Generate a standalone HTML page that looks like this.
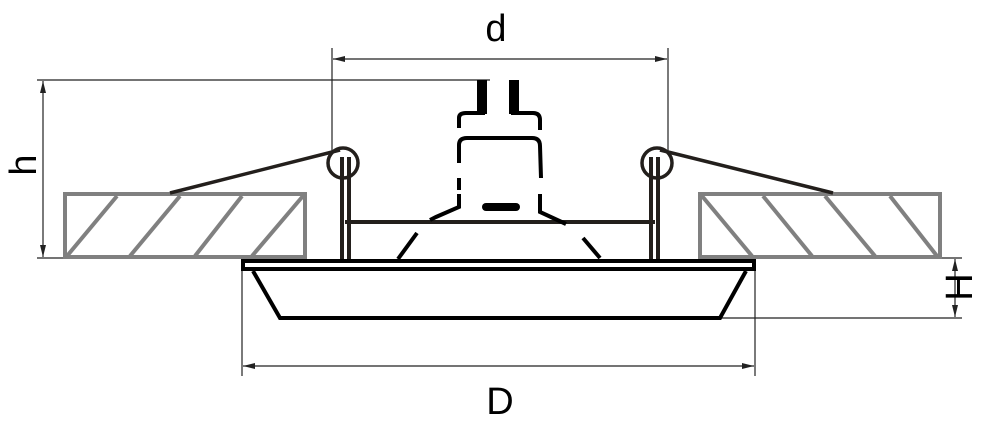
<!DOCTYPE html>
<html><head><style>html,body{margin:0;padding:0;background:#fff;width:1000px;height:433px;overflow:hidden}</style></head>
<body>
<svg width="1000" height="433" viewBox="0 0 1000 433" xmlns="http://www.w3.org/2000/svg">
<defs>
<marker id="a" viewBox="0 0 12 6" refX="12" refY="3" markerWidth="12" markerHeight="6" orient="auto-start-reverse" markerUnits="userSpaceOnUse"><path d="M0,0 L12,3 L0,6 Z" fill="#222"/></marker>
</defs>
<g stroke="#222" stroke-width="1.2" fill="none">
<line x1="37" y1="80" x2="490" y2="80"/>
<line x1="37" y1="258" x2="70" y2="258"/>
<line x1="43" y1="81" x2="43" y2="257" marker-start="url(#a)" marker-end="url(#a)"/>
<line x1="332" y1="48" x2="332" y2="152"/>
<line x1="668" y1="48" x2="668" y2="152"/>
<line x1="333" y1="59" x2="667" y2="59" marker-start="url(#a)" marker-end="url(#a)"/>
<line x1="242" y1="270" x2="242" y2="376"/>
<line x1="755" y1="270" x2="755" y2="376"/>
<line x1="243" y1="366" x2="754" y2="366" marker-start="url(#a)" marker-end="url(#a)"/>
<line x1="755" y1="258" x2="962" y2="258"/>
<line x1="720" y1="318" x2="962" y2="318"/>
<line x1="955" y1="259" x2="955" y2="317" marker-start="url(#a)" marker-end="url(#a)"/>
</g>
<g stroke="#808080" stroke-width="4" fill="none">
<rect x="65" y="194" width="240" height="63"/>
<line x1="67" y1="256" x2="117" y2="196"/><line x1="130" y1="256" x2="180" y2="196"/><line x1="195" y1="256" x2="242" y2="196"/><line x1="252" y1="256" x2="303" y2="196"/>
<rect x="700" y="194" width="240" height="63"/>
<line x1="702" y1="196" x2="752" y2="256"/><line x1="763" y1="196" x2="812" y2="256"/><line x1="825" y1="196" x2="875" y2="256"/><line x1="890" y1="196" x2="937" y2="256"/>
</g>
<g stroke="#231f1c" fill="none">
<line x1="170" y1="193" x2="340" y2="150" stroke-width="3.5"/>
<line x1="833" y1="193" x2="660" y2="150" stroke-width="3.5"/>
<circle cx="343" cy="163" r="15" stroke-width="3.5"/>
<circle cx="657" cy="163" r="15" stroke-width="3.5"/>
<line x1="342" y1="157" x2="342" y2="260" stroke-width="4"/>
<line x1="349" y1="157" x2="349" y2="260" stroke-width="4"/>
<line x1="651" y1="157" x2="651" y2="260" stroke-width="4"/>
<line x1="658" y1="157" x2="658" y2="260" stroke-width="4"/>
<line x1="345" y1="222" x2="655" y2="222" stroke-width="4"/>
</g>
<g fill="#000" stroke="none">
<rect x="477" y="80" width="10" height="34"/>
<rect x="509" y="80" width="10" height="34"/>
<rect x="482" y="203" width="38" height="8" rx="4"/>
</g>
<g stroke="#000" stroke-width="4" fill="none">
<path d="M459,128 L459,118 Q459,113 466,113 L485,113"/>
<path d="M511,113 L533,113 Q540,113 540,120 L540,130"/>
<path d="M459,163 L459,145 Q459,138 467,138 L532,138 Q540,138 540,146 L541,178"/>
<path d="M459,178 L459,190"/>
<path d="M459,194 L459,207 L436,217 L430,220"/>
<path d="M540,194 L540,212 L566,224"/>
<line x1="417" y1="233" x2="398" y2="259"/>
<line x1="583" y1="238" x2="600" y2="258"/>
</g>
<g stroke="#000" fill="none">
<rect x="243" y="261" width="511" height="8" stroke-width="4"/>
<path d="M253,271 L280,318 L720,318 L746,271" stroke-width="4"/>
</g>
<g font-family="Liberation Sans, sans-serif" fill="#000">
<text x="496" y="41" font-size="38" text-anchor="middle">d</text>
<text x="500" y="414" font-size="38" text-anchor="middle">D</text>
<text transform="translate(36,165) rotate(-90)" font-size="38" text-anchor="middle">h</text>
<text transform="translate(972,287) rotate(-90)" font-size="38" text-anchor="middle">H</text>
</g>
</svg>
</body></html>
